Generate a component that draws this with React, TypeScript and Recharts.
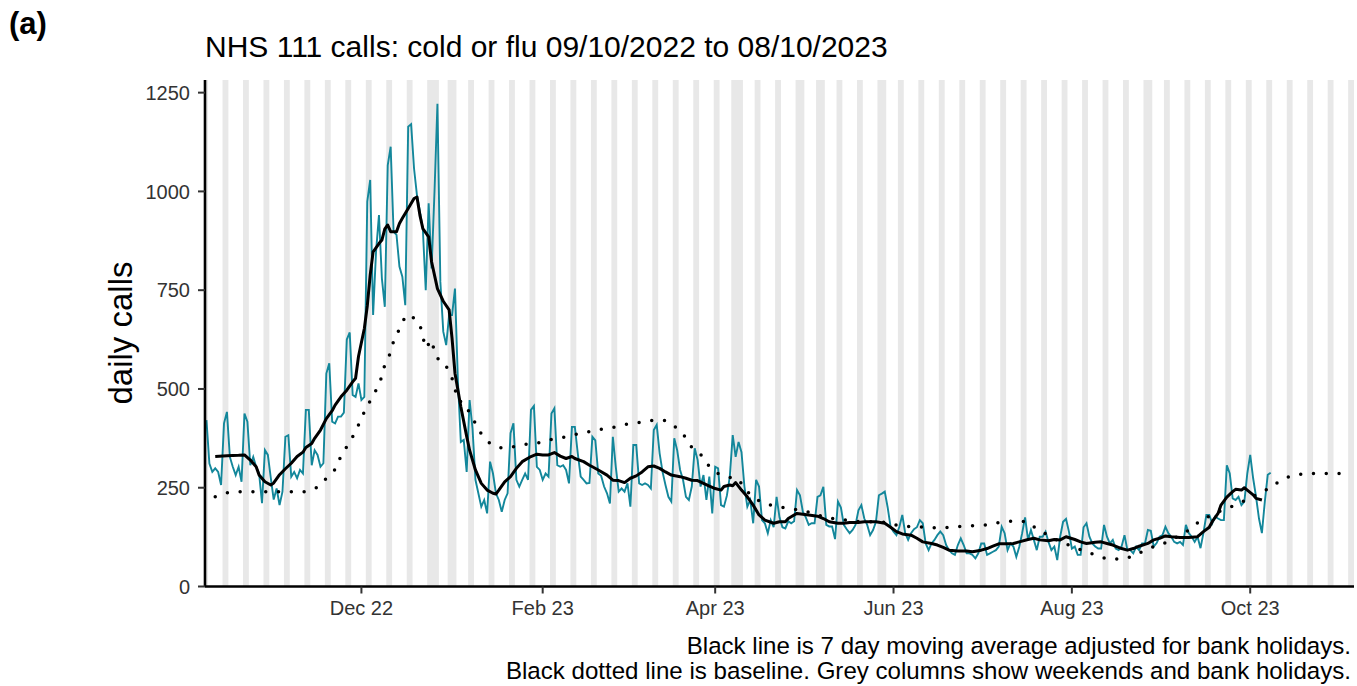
import React from 'react';
import { ComposedChart, Line, XAxis, YAxis, ReferenceArea } from 'recharts';

// Day 0 = Sunday 9 Oct 2022
const startUTC = Date.UTC(2022, 9, 9);
const DAY_MS = 86400000;
const lastDay = 392;

// daily NHS 111 calls (cold or flu), one value per day from 09/10/2022
const calls = [
  421, 311, 290, 299, 290, 257, 413,
  442, 328, 303, 282, 303, 265, 438,
  417, 307, 328, 303, 286, 211, 345,
  333, 275, 220, 248, 206, 240, 379,
  383, 278, 290, 274, 295, 286, 447,
  447, 307, 345, 333, 303, 312, 539,
  565, 417, 413, 430, 430, 440, 625,
  643, 485, 480, 514, 472, 480, 974,
  1029, 687, 847, 940, 780, 708, 1066,
  1113, 898, 890, 810, 784, 712, 1164,
  1170, 1058, 990, 950, 906, 750, 970,
  805, 1000, 1222, 771, 645, 611, 687,
  687, 754, 520, 366, 371, 290, 472,
  400, 270, 236, 202, 219, 185, 316,
  286, 236, 219, 189, 219, 236, 388,
  413, 270, 253, 270, 286, 270, 447,
  457, 303, 295, 270, 286, 278, 438,
  451, 307, 303, 307, 295, 261, 404,
  404, 337, 278, 270, 261, 262, 379,
  370, 286, 280, 253, 236, 210, 379,
  303, 240, 248, 240, 261, 202, 358,
  358, 261, 257, 261, 257, 248, 396,
  409, 337, 290, 257, 227, 215, 375,
  345, 295, 270, 227, 219, 253, 350,
  320, 253, 282, 219, 278, 185, 303,
  299, 206, 202, 230, 278, 383, 328,
  366, 340, 253, 202, 219, 160, 270,
  253, 168, 160, 135, 168, 150, 227,
  175, 150, 147, 165, 160, 165, 244,
  231, 189, 175, 156, 160, 160, 227,
  231, 252, 156, 152, 152, 120, 215,
  200, 156, 145, 135, 143, 156, 193,
  206, 172, 156, 130, 143, 164, 231,
  235, 240, 200, 151, 139, 130, 151,
  181, 135, 118, 135, 145, 150, 168,
  160, 109, 92, 109, 118, 130, 139,
  130, 105, 92, 84, 80, 105, 122,
  105, 84, 84, 80, 71, 84, 109,
  109, 80, 84, 88, 92, 101, 151,
  135, 92, 109, 101, 75, 100, 135,
  175, 118, 143, 118, 92, 126, 126,
  139, 113, 92, 101, 67, 126, 164,
  171, 139, 96, 101, 80, 80, 150,
  160, 126, 109, 101, 96, 96, 156,
  126, 109, 118, 96, 92, 101, 130,
  92, 92, 84, 101, 92, 109, 109,
  143, 141, 101, 110, 126, 130, 151,
  135, 126, 113, 109, 113, 105, 156,
  135, 126, 113, 126, 97, 135, 181,
  181, 160, 177, 172, 168, 168, 307,
  286, 223, 219, 227, 206, 215, 286,
  333, 274, 227, 172, 135, 215, 283,
  288,
];

// 7 day moving average (read at selected days)
const maDays = [3, 7, 11, 13, 15, 17, 18, 20, 22, 23, 25, 27, 29, 31, 33, 34, 36, 37, 39, 41, 43, 44, 46, 48, 50, 51, 52, 54, 55, 56, 57, 59, 60, 61, 62, 63, 65, 66, 67, 69, 71, 72, 73, 74, 76, 77, 79, 81, 83, 84, 85, 87, 89, 90, 92, 94, 96, 98, 99, 100, 102, 104, 106, 108, 111, 113, 115, 117, 119, 121, 123, 125, 126, 129, 131, 132, 134, 137, 139, 141, 143, 145, 147, 149, 151, 153, 155, 157, 159, 162, 164, 166, 168, 170, 172, 174, 176, 177, 179, 180, 181, 183, 185, 187, 189, 191, 194, 196, 198, 199, 201, 202, 204, 206, 209, 211, 213, 216, 218, 220, 223, 225, 227, 229, 232, 234, 236, 238, 241, 243, 245, 248, 250, 252, 254, 257, 260, 262, 265, 267, 269, 271, 274, 276, 278, 281, 283, 285, 288, 290, 292, 294, 297, 299, 301, 304, 306, 308, 310, 313, 315, 317, 319, 322, 324, 326, 328, 330, 333, 336, 339, 341, 343, 344, 346, 347, 349, 351, 352, 354, 355, 356, 358, 359, 361];
const maValues = [329, 331, 332, 333, 320, 303, 282, 265, 257, 262, 283, 298, 312, 329, 340, 352, 362, 375, 396, 425, 445, 459, 480, 497, 518, 527, 582, 653, 710, 788, 847, 868, 877, 905, 915, 898, 898, 919, 932, 957, 982, 986, 940, 906, 885, 822, 754, 722, 700, 628, 540, 455, 380, 345, 295, 261, 244, 236, 234, 244, 265, 278, 299, 316, 329, 335, 333, 333, 339, 330, 324, 329, 324, 316, 307, 303, 295, 282, 269, 268, 263, 274, 280, 290, 303, 305, 299, 290, 282, 278, 274, 269, 268, 261, 254, 248, 244, 253, 257, 255, 263, 244, 227, 206, 181, 168, 160, 164, 164, 172, 181, 185, 183, 181, 178, 172, 164, 160, 160, 162, 162, 164, 164, 164, 160, 150, 139, 133, 130, 122, 113, 109, 105, 99, 92, 90, 90, 88, 92, 96, 102, 108, 108, 109, 113, 119, 122, 118, 116, 119, 118, 126, 119, 113, 109, 112, 113, 109, 105, 96, 92, 96, 102, 109, 118, 122, 128, 126, 124, 124, 126, 139, 150, 164, 185, 206, 226, 240, 246, 244, 250, 244, 232, 223, 219];

// baseline (read at selected days)
const baseDays = [3, 7, 12, 17, 21, 25, 30, 34, 38, 41, 44, 46, 48, 50, 52, 54, 56, 58, 60, 61, 63, 64, 66, 68, 69, 71, 73, 74, 75, 77, 78, 80, 82, 84, 85, 86, 88, 90, 92, 94, 97, 101, 105, 110, 114, 118, 123, 127, 131, 135, 140, 144, 148, 153, 157, 159, 161, 164, 166, 170, 172, 175, 179, 182, 184, 187, 191, 196, 200, 204, 209, 213, 216, 220, 224, 228, 233, 237, 242, 246, 250, 255, 259, 264, 268, 272, 276, 281, 284, 288, 292, 296, 300, 304, 308, 313, 317, 321, 325, 329, 333, 337, 340, 344, 348, 352, 356, 360, 364, 367, 371, 376, 380, 385, 389];
const baseValues = [227, 237, 240, 240, 240, 240, 240, 240, 251, 274, 296, 330, 354, 379, 409, 442, 470, 497, 531, 562, 592, 621, 652, 683, 688, 679, 663, 632, 603, 624, 594, 565, 558, 527, 500, 470, 466, 440, 413, 386, 362, 350, 354, 361, 364, 372, 379, 386, 392, 398, 404, 411, 415, 421, 420, 412, 400, 377, 352, 328, 303, 286, 276, 272, 248, 225, 209, 202, 196, 193, 181, 172, 172, 166, 164, 164, 162, 153, 151, 150, 148, 150, 153, 154, 157, 163, 166, 164, 145, 130, 113, 102, 90, 80, 70, 69, 77, 92, 104, 113, 130, 147, 168, 181, 195, 206, 221, 236, 250, 267, 280, 286, 286, 286, 286];

const tickDays = [53, 115, 174, 235, 296, 357];
const tickLabels = ['Dec 22', 'Feb 23', 'Apr 23', 'Jun 23', 'Aug 23', 'Oct 23'];
const yTicks = [0, 250, 500, 750, 1000, 1250];
const bankHolidays = ['2022-12-26', '2022-12-27', '2023-01-02', '2023-04-07', '2023-04-10', '2023-05-01', '2023-05-08', '2023-05-29', '2023-08-28'];

const FONT = '"Liberation Sans", Arial, Helvetica, sans-serif';

function dayOf(iso: string): number {
  const [y, m, dd] = iso.split('-').map(Number);
  return Math.round((Date.UTC(y, m - 1, dd) - startUTC) / DAY_MS);
}

const holidaySet = new Set(bankHolidays.map(dayOf));
const greyRuns: { from: number; to: number }[] = [];
for (let d = 0; d <= lastDay; d++) {
  const dow = new Date(startUTC + d * DAY_MS).getUTCDay();
  const grey = dow === 0 || dow === 6 || holidaySet.has(d);
  if (!grey) continue;
  const last = greyRuns[greyRuns.length - 1];
  if (last && last.to === d - 1) last.to = d;
  else greyRuns.push({ from: d, to: d });
}

type Row = { d: number; calls: number | null; ma: number | null; base: number | null };
const rows: Row[] = [];
for (let d = 0; d <= lastDay; d++) {
  rows.push({ d, calls: d < calls.length ? calls[d] : null, ma: null, base: null });
}
maDays.forEach((d, i) => { rows[d].ma = maValues[i]; });
baseDays.forEach((d, i) => { rows[d].base = baseValues[i]; });

export default function App() {
  return (
    <div style={{ position: 'absolute', left: 0, top: 0, width: 1357, height: 686, background: '#fff', fontFamily: FONT }}>
      <ComposedChart
        width={1357}
        height={686}
        data={rows}
        margin={{ top: 80, right: 3, bottom: 59.5, left: 145 }}
      >
        {greyRuns.map((r, i) => (
          <ReferenceArea
            key={i}
            x1={r.from - 0.5}
            x2={r.to + 0.5}
            fill="#e8e8e8"
            fillOpacity={1}
            stroke="none"
            ifOverflow="hidden"
          />
        ))}
        <XAxis
          type="number"
          dataKey="d"
          domain={[-0.5, 392.5]}
          allowDataOverflow
          ticks={tickDays}
          interval={0}
          tickFormatter={(v: number) => tickLabels[tickDays.indexOf(v)] ?? ''}
          height={40}
          tickSize={7}
          tickMargin={7}
          axisLine={{ stroke: '#000', strokeWidth: 2.6 }}
          tickLine={{ stroke: '#333', strokeWidth: 2 }}
          tick={{ fill: '#333', fontSize: 20, fontFamily: FONT }}
        />
        <YAxis
          type="number"
          domain={[0, 1282]}
          allowDataOverflow
          ticks={yTicks}
          interval={0}
          width={60}
          tickSize={7}
          tickMargin={8}
          axisLine={{ stroke: '#000', strokeWidth: 2.6 }}
          tickLine={{ stroke: '#333', strokeWidth: 2 }}
          tick={{ fill: '#333', fontSize: 20, fontFamily: FONT }}
        />
        <Line
          type="linear"
          dataKey="calls"
          stroke="#13879b"
          strokeWidth={1.9}
          dot={false}
          activeDot={false}
          isAnimationActive={false}
        />
        <Line
          type="linear"
          dataKey="base"
          stroke="#000"
          strokeWidth={3.5}
          strokeDasharray="0 12.8"
          strokeLinecap="round"
          connectNulls
          dot={false}
          activeDot={false}
          isAnimationActive={false}
        />
        <Line
          type="linear"
          dataKey="ma"
          stroke="#000"
          strokeWidth={3}
          strokeLinejoin="round"
          connectNulls
          dot={false}
          activeDot={false}
          isAnimationActive={false}
        />
      </ComposedChart>

      <div style={{ position: 'absolute', left: 9, top: 8, fontSize: 31, fontWeight: 'bold', lineHeight: 1, color: '#000' }}>(a)</div>
      <div style={{ position: 'absolute', left: 205, top: 32, fontSize: 30, lineHeight: 1, color: '#000', whiteSpace: 'nowrap' }}>
        NHS 111 calls: cold or flu 09/10/2022 to 08/10/2023
      </div>
      <div
        style={{
          position: 'absolute', left: 120, top: 333, fontSize: 33, lineHeight: 1, color: '#000', whiteSpace: 'nowrap',
          transform: 'translate(-50%, -50%) rotate(-90deg)',
        }}
      >
        daily calls
      </div>
      <div style={{ position: 'absolute', right: 6, top: 633, fontSize: 24.1, lineHeight: '25px', color: '#000', textAlign: 'right', whiteSpace: 'nowrap' }}>
        <div>Black line is 7 day moving average adjusted for bank holidays.</div>
        <div>Black dotted line is baseline. Grey columns show weekends and bank holidays.</div>
      </div>
    </div>
  );
}
